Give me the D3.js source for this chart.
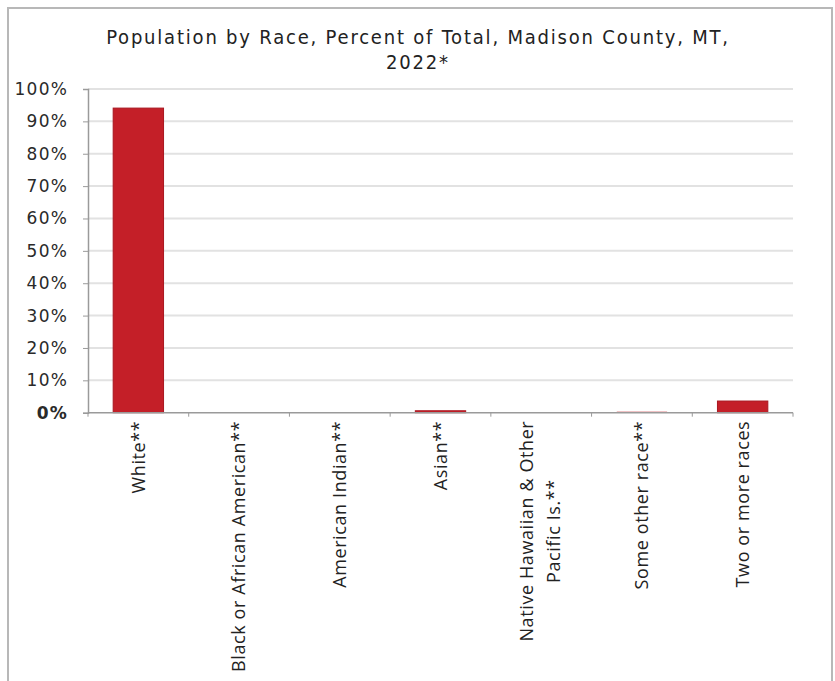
<!DOCTYPE html>
<html>
<head>
<meta charset="utf-8">
<script src="https://cdn.jsdelivr.net/npm/d3@7"></script>
<style>
    body { margin: 0; background: #fff; }
    svg { display: block; }
</style>
</head>
<body>
<div id="chart"></div>
<script>
    // chart values
    var categories = ["White**", "Black or African American**", "American Indian**", "Asian**",
        "Native Hawaiian & Other|Pacific Is.**", "Some other race**", "Two or more races"];
    var percents = [94.1, 0.1, 0.1, 0.6, 0.0, 0.3, 3.6];
    var yTicks = [0, 10, 20, 30, 40, 50, 60, 70, 80, 90, 100];
    var titleLines = ["Population by Race, Percent of Total, Madison County, MT,", "2022*"];

    var W = 835, H = 681;
    var margin = {top: 89, left: 88, right: 42, bottom: 268};

    var svg = d3.select("#chart").append("svg")
        .attr("width", W)
        .attr("height", H);

    // outer frame
    svg.append("rect")
        .attr("x", 8).attr("y", 8)
        .attr("width", 824).attr("height", H)
        .attr("fill", "none")
        .attr("stroke", "#b8b8b8")
        .attr("stroke-width", 2);

    svg.selectAll("text.title")
        .data(titleLines)
        .enter().append("text")
        .attr("class", "title")
        .attr("x", 418)
        .attr("y", function (d, i) { return 44 + i * 25; })
        .attr("text-anchor", "middle")
        .style("font-family", "'DejaVu Sans Condensed', 'DejaVu Sans', sans-serif")
        .style("font-size", "20px")
        .style("letter-spacing", "1.8px")
        .style("fill", "#222")
        .text(function (d) { return d; });

    var x = d3.scaleBand()
        .domain(categories)
        .range([margin.left, W - margin.right])
        .paddingInner(0.5)
        .paddingOuter(0.25);

    var y = d3.scaleLinear()
        .domain([0, 100])
        .range([H - margin.bottom - 0.3, margin.top]);

    // gridlines
    svg.append("g")
        .selectAll("line")
        .data(yTicks.filter(function (d) { return d > 0; }))
        .enter().append("line")
        .attr("x1", margin.left)
        .attr("x2", W - margin.right)
        .attr("y1", function (d) { return y(d); })
        .attr("y2", function (d) { return y(d); })
        .attr("stroke", "#e2e2e2")
        .attr("stroke-width", 2);

    // bars
    svg.append("g")
        .selectAll("rect")
        .data(percents)
        .enter().append("rect")
        .attr("x", function (d, i) { return x(categories[i]); })
        .attr("width", x.bandwidth())
        .attr("y", function (d) { return y(d); })
        .attr("height", function (d) { return y(0) - y(d); })
        .attr("fill", "#c41f28")
        .attr("stroke", function (d) { return d >= 0.5 ? "#a9161f" : "none"; })
        .attr("stroke-width", 1);

    // y axis
    var yAxis = d3.axisLeft(y)
        .tickValues(yTicks)
        .tickSize(5)
        .tickPadding(15)
        .tickFormat(function (d) { return d + "%"; });

    var gy = svg.append("g")
        .attr("transform", "translate(" + margin.left + ",0)")
        .call(yAxis);
    gy.select(".domain").attr("stroke", "#9a9a9a").attr("stroke-width", 1.5);
    gy.selectAll(".tick line").attr("stroke", "#9a9a9a");
    gy.selectAll(".tick text")
        .style("font-family", "'DejaVu Sans', sans-serif")
        .style("font-size", "17px")
        .style("letter-spacing", "1.2px")
        .style("font-weight", function (d) { return d === 0 ? "bold" : "normal"; })
        .style("fill", "#2a2a2a");

    // x axis: ticks at band edges
    var edges = categories.map(function (c) { return x(c) - x.step() * x.paddingInner() / 2; });
    edges.push(W - margin.right);

    var gx = svg.append("g");
    gx.append("line")
        .attr("x1", margin.left).attr("x2", W - margin.right)
        .attr("y1", y(0)).attr("y2", y(0))
        .attr("stroke", "#9a9a9a")
        .attr("stroke-width", 1.5);
    gx.selectAll("line.tick")
        .data(edges)
        .enter().append("line")
        .attr("class", "tick")
        .attr("x1", function (d) { return d; })
        .attr("x2", function (d) { return d; })
        .attr("y1", y(0))
        .attr("y2", y(0) + 4)
        .attr("stroke", "#9a9a9a");

    var labels = gx.selectAll("text.xlabel")
        .data(categories)
        .enter().append("text")
        .attr("class", "xlabel")
        .attr("transform", function (d) {
            var cx = x(d) + x.bandwidth() / 2;
            return "translate(" + cx + "," + (y(0) + 8) + ") rotate(-90)";
        })
        .style("font-family", "'Open Sans', sans-serif")
        .style("font-size", "18px")
        .style("letter-spacing", "0.6px")
        .style("fill", "#222");

    labels.each(function (d) {
        var parts = d.split("|");
        var t = d3.select(this);
        var off = (parts.length - 1) * 0.78;
        parts.forEach(function (p, i) {
            t.append("tspan")
                .attr("x", 0)
                .attr("y", 0)
                .attr("dy", (0.35 - off + i * 1.5) + "em")
                .attr("text-anchor", parts.length > 1 ? "middle" : "end")
                .text(p);
        });
    });
    // two-line label: lines centered on each other, top of longest line at axis
    labels.filter(function (d) { return d.indexOf("|") >= 0; })
        .each(function () {
            var t = d3.select(this);
            var first = t.select("tspan").node().getComputedTextLength();
            t.selectAll("tspan").attr("x", -first / 2);
        });
</script>
</body>
</html>
